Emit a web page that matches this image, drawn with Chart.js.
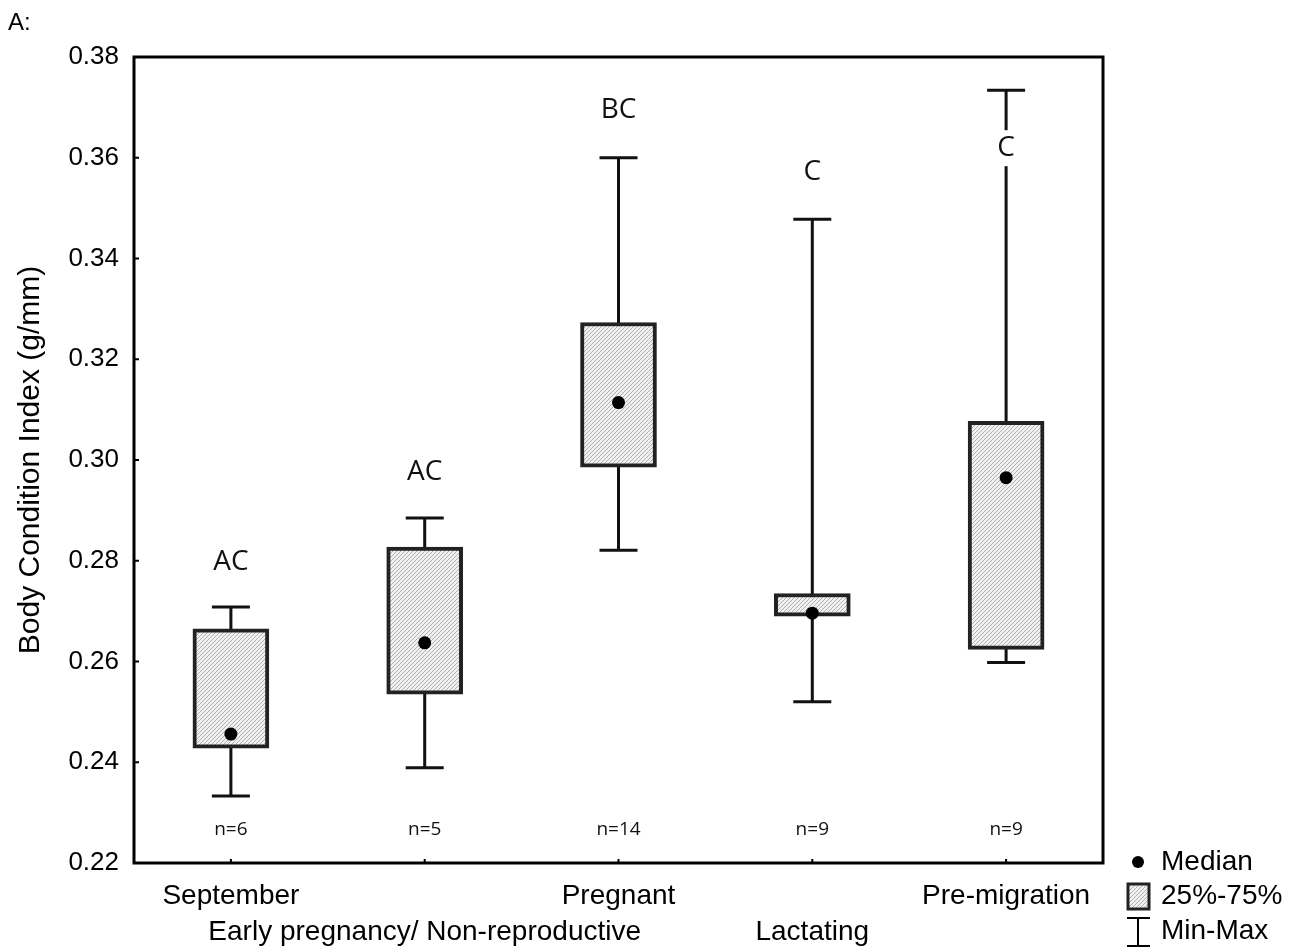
<!DOCTYPE html>
<html>
<head>
<meta charset="utf-8">
<script src="https://cdn.jsdelivr.net/npm/chart.js@4"></script>
<style>
  html, body { margin: 0; padding: 0; background: #fff; }
  #wrap { width: 1292px; height: 950px; position: relative; }
</style>
</head>
<body>
<div id="wrap"><canvas id="boxChart" width="1292" height="950"></canvas></div>
<script>
  const categories = ['September', 'Early pregnancy/ Non-reproductive', 'Pregnant', 'Lactating', 'Pre-migration'];
  const minVals    = [0.2333, 0.2389, 0.2821, 0.2520, 0.2598];
  const q1Vals     = [0.2428, 0.2535, 0.2986, 0.2690, 0.2624];
  const medianVals = [0.2456, 0.2637, 0.3114, 0.2696, 0.2965];
  const q3Vals     = [0.2665, 0.2827, 0.3273, 0.2735, 0.3077];
  const maxVals    = [0.2708, 0.2885, 0.3600, 0.3478, 0.3734];
  const groupLetters = ['AC', 'AC', 'BC', 'C', 'C'];
  const sampleSizes  = ['n=6', 'n=5', 'n=14', 'n=9', 'n=9'];
  // value where each letter sits
  const letterAt = [0.2797, 0.2976, 0.3695, 0.3572, 0.3619];

  const yMin = 0.22, yMax = 0.38, yStep = 0.02;

  const arialFont = "'Liberation Sans', Arial, sans-serif";
  const calFont = "'Open Sans', sans-serif";

  // hatched fill for the boxes
  const makeHatch = () => {
      const c = document.createElement('canvas');
      c.width = 4; c.height = 4;
      const g = c.getContext('2d');
      g.fillStyle = '#f1f1f1';
      g.fillRect(0, 0, 4, 4);
      g.strokeStyle = '#b0b0b0';
      g.lineWidth = 1;
      g.beginPath();
      g.moveTo(0, 4); g.lineTo(4, 0);
      g.moveTo(-1, 1); g.lineTo(1, -1);
      g.moveTo(3, 5); g.lineTo(5, 3);
      g.stroke();
      return g.createPattern(c, 'repeat');
  };
  const hatch = makeHatch();

  // alternate label rows like the original
  const tickLabels = categories.map((c, i) => i % 2 === 0 ? [c, ''] : ['', c]);

  const boxPlugin = {
      id: 'boxExtras',
      beforeDatasetsDraw(chart) {
          const ctx = chart.ctx;
          const x = chart.scales.x, y = chart.scales.y;
          ctx.save();
          ctx.strokeStyle = '#111';
          ctx.lineWidth = 3;
          categories.forEach((c, i) => {
              const px = x.getPixelForValue(i);
              const top = y.getPixelForValue(maxVals[i]);
              const bot = y.getPixelForValue(minVals[i]);
              ctx.beginPath();
              ctx.moveTo(px, top); ctx.lineTo(px, bot);
              ctx.moveTo(px - 19, top); ctx.lineTo(px + 19, top);
              ctx.moveTo(px - 19, bot); ctx.lineTo(px + 19, bot);
              ctx.stroke();
          });
          ctx.restore();
      },
      afterDatasetsDraw(chart) {
          const ctx = chart.ctx;
          const x = chart.scales.x, y = chart.scales.y;
          const area = chart.chartArea;
          ctx.save();

          // letters
          ctx.font = '28px ' + calFont;
          ctx.textAlign = 'center';
          ctx.textBaseline = 'middle';
          groupLetters.forEach((t, i) => {
              const px = x.getPixelForValue(i);
              const py = y.getPixelForValue(letterAt[i]);
              if (letterAt[i] < maxVals[i]) {
                  const w = ctx.measureText(t).width;
                  ctx.fillStyle = '#fff';
                  ctx.fillRect(px - w / 2 - 4, py - 18, w + 8, 36);
              }
              ctx.fillStyle = '#111';
              ctx.fillText(t, px, py);
          });

          // sample sizes
          ctx.font = '19px ' + calFont;
          sampleSizes.forEach((t, i) => {
              ctx.fillText(t, x.getPixelForValue(i), area.bottom - 33);
          });

          // frame + inner ticks
          ctx.strokeStyle = '#000';
          ctx.lineWidth = 3;
          ctx.strokeRect(area.left, area.top, area.right - area.left, area.bottom - area.top);
          ctx.lineWidth = 2;
          ctx.beginPath();
          y.ticks.forEach(t => {
              const py = y.getPixelForValue(t.value);
              ctx.moveTo(area.left, py); ctx.lineTo(area.left + 5, py);
          });
          categories.forEach((c, i) => {
              const px = x.getPixelForValue(i);
              ctx.moveTo(px, area.bottom); ctx.lineTo(px, area.bottom - 4);
          });
          ctx.stroke();

          // "A:" panel tag
          ctx.fillStyle = '#000';
          ctx.font = '24px ' + arialFont;
          ctx.textAlign = 'left';
          ctx.fillText('A:', 8, 23);

          // legend on the right
          const lx = area.right + 35;
          ctx.beginPath();
          ctx.arc(lx, 862, 6, 0, Math.PI * 2);
          ctx.fill();
          ctx.fillStyle = hatch;
          ctx.fillRect(lx - 10, 884, 21, 25);
          ctx.strokeStyle = '#222';
          ctx.lineWidth = 3;
          ctx.strokeRect(lx - 10, 884, 21, 25);
          ctx.strokeStyle = '#000';
          ctx.lineWidth = 2;
          ctx.beginPath();
          ctx.moveTo(lx, 918); ctx.lineTo(lx, 946);
          ctx.moveTo(lx - 11, 918); ctx.lineTo(lx + 12, 918);
          ctx.moveTo(lx - 11, 946); ctx.lineTo(lx + 12, 946);
          ctx.stroke();
          ctx.fillStyle = '#000';
          ctx.font = '28px ' + arialFont;
          ctx.fillText('Median', lx + 23, 862);
          ctx.fillText('25%-75%', lx + 23, 896);
          ctx.fillText('Min-Max', lx + 23, 931);
          ctx.restore();
      }
  };

  const initChart = () => {
      const ctx = document.getElementById('boxChart').getContext('2d');
      new Chart(ctx, {
          data: {
              labels: tickLabels,
              datasets: [
                  {
                      type: 'line',
                      label: 'Median',
                      data: medianVals,
                      showLine: false,
                      pointRadius: 6.5,
                      pointHoverRadius: 6.5,
                      pointBackgroundColor: '#000',
                      pointBorderWidth: 0,
                      order: 0
                  },
                  {
                      type: 'bar',
                      label: '25%-75%',
                      data: q1Vals.map((v, i) => [v, q3Vals[i]]),
                      backgroundColor: hatch,
                      borderColor: '#222',
                      borderWidth: 4,
                      borderSkipped: false,
                      barThickness: 76,
                      order: 1
                  }
              ]
          },
          options: {
              responsive: false,
              animation: false,
              layout: { padding: { left: 1, right: 189, top: 57, bottom: 0 } },
              plugins: {
                  legend: { display: false },
                  tooltip: { enabled: false }
              },
              scales: {
                  x: {
                      offset: true,
                      grid: { display: false, drawTicks: false },
                      border: { display: false },
                      ticks: {
                          autoSkip: false,
                          maxRotation: 0,
                          minRotation: 0,
                          padding: 15,
                          color: '#000',
                          font: { family: arialFont, size: 28, lineHeight: 1.3 }
                      },
                      afterFit: s => { s.height = 87; }
                  },
                  y: {
                      min: yMin,
                      max: yMax,
                      grid: { display: false, drawTicks: false },
                      border: { display: false },
                      ticks: {
                          stepSize: yStep,
                          padding: 15,
                          color: '#000',
                          font: { family: arialFont, size: 26 },
                          callback: v => v.toFixed(2)
                      },
                      title: {
                          display: true,
                          text: 'Body Condition Index (g/mm)',
                          color: '#000',
                          font: { family: arialFont, size: 30, lineHeight: 1.2 },
                          padding: { top: 12, bottom: 0 }
                      },
                      afterFit: s => { s.width = 133; }
                  }
              }
          },
          plugins: [boxPlugin]
      });
  };

  document.addEventListener('DOMContentLoaded', initChart);
</script>
</body>
</html>
